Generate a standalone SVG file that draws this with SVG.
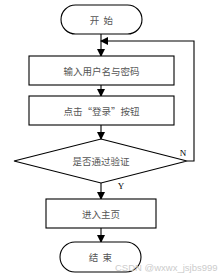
<svg xmlns="http://www.w3.org/2000/svg" width="219" height="279" viewBox="0 0 219 279">
<defs>
<marker id="ah" markerWidth="8" markerHeight="8" refX="7" refY="4" orient="auto" markerUnits="userSpaceOnUse">
<path d="M0,0 L8,4 L0,8 Z" fill="#000"/>
</marker>
<style>
.s{fill:#fff;stroke:#000;stroke-width:1.1}
.t{font-family:"Noto Sans CJK SC",sans-serif;font-size:9.5px;fill:#555;text-anchor:middle;dominant-baseline:central}
.l{fill:none;stroke:#000;stroke-width:1.1}
.lbl{font-family:"Liberation Serif",serif;font-size:9px;fill:#000;text-anchor:middle}
.wm{font-family:"Liberation Sans",sans-serif;font-size:9.5px;fill:#ccc}
</style>
</defs>
<rect width="219" height="279" fill="#fff"/>
<g id="connectors">
<line class="l" x1="101" y1="34" x2="101" y2="56" marker-end="url(#ah)"/>
<line class="l" x1="101" y1="85" x2="101" y2="96" marker-end="url(#ah)"/>
<line class="l" x1="101" y1="125" x2="101" y2="139" marker-end="url(#ah)"/>
<line class="l" x1="101" y1="183" x2="101" y2="199" marker-end="url(#ah)"/>
<line class="l" x1="101" y1="228" x2="101" y2="242" marker-end="url(#ah)"/>
<polyline class="l" points="187,161 194,161 194,41 101,41" marker-end="url(#ah)"/>
<text class="lbl" x="183" y="156">N</text>
<text class="lbl" x="121" y="189">Y</text>
</g>
<g id="start">
<rect class="s" x="61" y="5" width="81" height="29" rx="14.5"/>
<text class="t" x="101.5" y="19.5" xml:space="preserve">开  始</text>
</g>
<g id="input">
<rect class="s" x="29" y="56" width="145" height="29"/>
<text class="t" x="101.5" y="70.5">输入用户名与密码</text>
</g>
<g id="click">
<rect class="s" x="29" y="96" width="145" height="29"/>
<text class="t" x="101.5" y="110.5">点击“登录”按钮</text>
</g>
<g id="verify">
<polygon class="s" points="101,139 187,161 101,183 14,161"/>
<text class="t" x="101" y="161">是否通过验证</text>
</g>
<g id="home">
<rect class="s" x="46" y="199" width="110" height="29"/>
<text class="t" x="101" y="213.5">进入主页</text>
</g>
<g id="end">
<rect class="s" x="60" y="242" width="81" height="30" rx="15"/>
<text class="t" x="100.5" y="257" xml:space="preserve">结  束</text>
</g>
<text class="wm" x="115" y="271">CSDN @wxwx_jsjbs999</text>
</svg>
